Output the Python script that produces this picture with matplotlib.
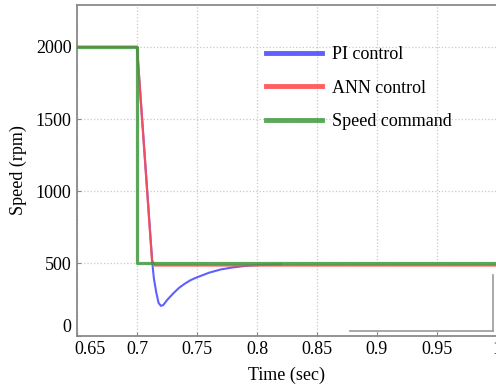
import numpy as np
import matplotlib.pyplot as plt
import matplotlib.transforms as mtransforms
from matplotlib.patches import Rectangle

plt.rcParams['font.family'] = ['Liberation Serif', 'DejaVu Serif']
plt.rcParams['font.size'] = 13

# PI controller response
pi_time = [0.65, 0.70, 0.7128, 0.714, 0.716, 0.718, 0.720, 0.722, 0.725, 0.730,
           0.735, 0.740, 0.745, 0.750, 0.760, 0.770, 0.780, 0.790, 0.800, 0.810, 0.820]
pi_speed = [2000, 2000, 500, 400, 300, 225, 205, 212, 245, 290,
            330, 360, 385, 403, 435, 458, 472, 482, 488, 491, 492]

# ANN controller response
ann_time = [0.65, 0.70, 0.7125, 0.715, 1.0]
ann_speed = [2000, 2000, 520, 485, 485]

# speed command
cmd_time = [0.65, 0.70, 0.70, 1.0]
cmd_speed = [2000, 2000, 500, 500]

# leftover box in the lower right corner of the original figure
box_x = [0.8775, 0.9965]
box_y = [31, 479]
box_edge_top = 417

xticks = [0.65, 0.7, 0.75, 0.8, 0.85, 0.9, 0.95, 1.0]
xticklabels = ['0.65', '0.7', '0.75', '0.8', '0.85', '0.9', '0.95', '1']
yticks = [0, 500, 1000, 1500, 2000]

fig = plt.figure(figsize=(4.96, 3.87), dpi=100)
ax = fig.add_axes([77/496, 1 - 335.5/387, 420/496, 330.5/387])

ax.grid(True, color='#c8c8c8', linestyle=':', linewidth=0.9)
ax.set_axisbelow(True)

# white box hiding the grid + grey edges
ax.add_patch(Rectangle((box_x[0], box_y[0]), box_x[1] - box_x[0], box_y[1] - box_y[0],
                       facecolor='white', edgecolor='none', zorder=1.5))
ax.plot([box_x[0], box_x[1]], [box_y[0], box_y[0]], color='#999999', lw=1.2, zorder=1.6)
ax.plot([box_x[1], box_x[1]], [box_y[0], box_edge_top], color='#999999', lw=1.2, zorder=1.6)

ax.plot(pi_time, pi_speed, color='#4f4fff', lw=1.5, alpha=0.9, label='PI control', zorder=3)
ax.plot(ann_time, ann_speed, color='#ff4d4d', lw=1.6, alpha=0.9, label='ANN control', zorder=3)
ax.plot(cmd_time, cmd_speed, color='#3f9a3f', lw=2.3, alpha=0.85, label='Speed command', zorder=4)

ax.set_xlim(0.65, 1.0)
ax.set_ylim(0, 2290)
ax.set_xticks(xticks)
ax.set_xticklabels(xticklabels)
ax.set_yticks(yticks)
ax.tick_params(direction='in', length=3, color='#888888', pad=4)
for s in ax.spines.values():
    s.set_color('#8a8a8a')
    s.set_linewidth(1.3)

# corner labels nudged inward like the original
lab0x = ax.get_xticklabels()[0]
lab0x.set_transform(lab0x.get_transform() + mtransforms.ScaledTranslation(13/100, 0, fig.dpi_scale_trans))
lab0y = ax.get_yticklabels()[0]
lab0y.set_transform(lab0y.get_transform() + mtransforms.ScaledTranslation(0, 10/100, fig.dpi_scale_trans))

ax.set_xlabel('Time (sec)', labelpad=6)
ax.set_ylabel('Speed (rpm)', labelpad=6)

leg = ax.legend(loc='upper left', bbox_to_anchor=(266/496, 1 - 46/387), bbox_transform=fig.transFigure,
                frameon=False, borderpad=0, borderaxespad=0, handlelength=3.1,
                handletextpad=0.55, labelspacing=0.92, fontsize=13)
for line in leg.get_lines():
    line.set_linewidth(3.5)

fig.savefig('out.png', dpi=100)
